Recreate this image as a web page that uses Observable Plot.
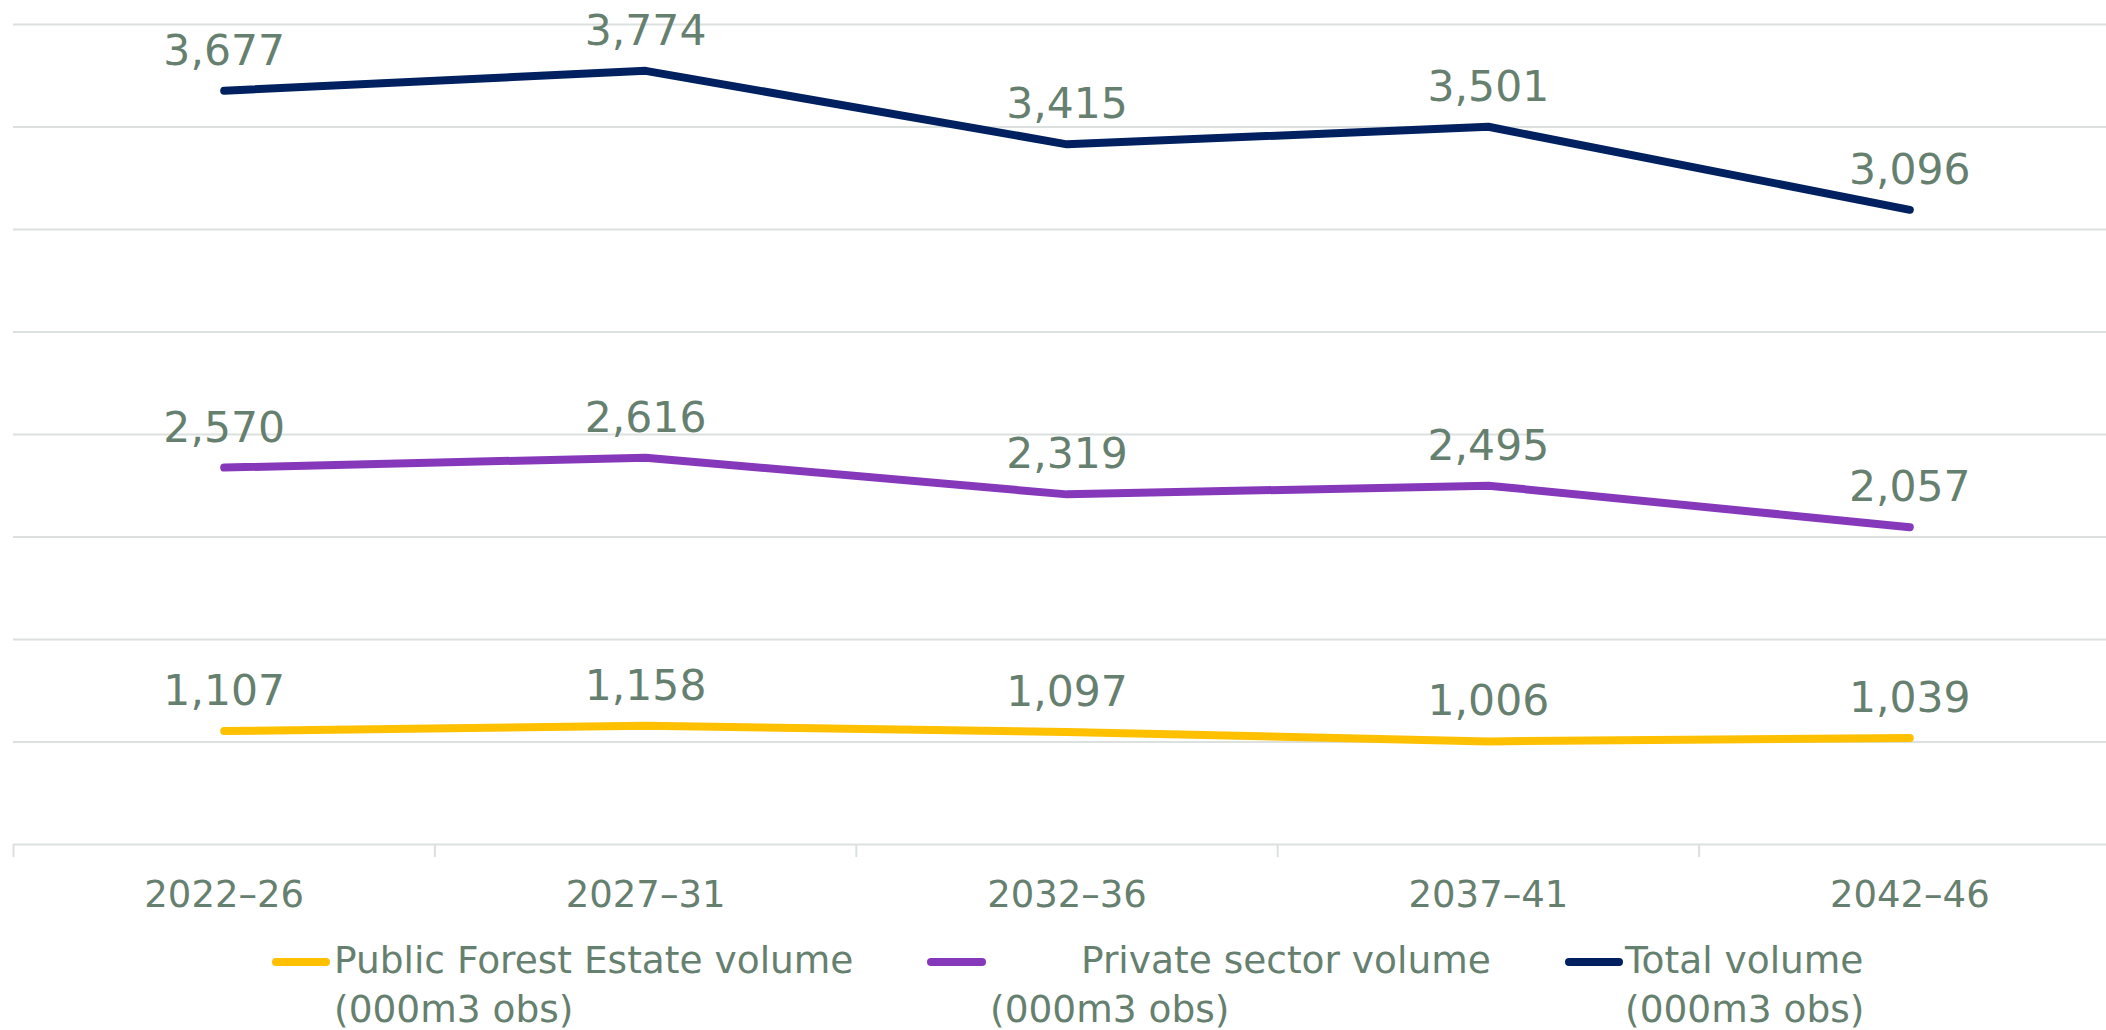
<!DOCTYPE html>
<html>
<head>
<meta charset="utf-8">
<script src="https://cdn.jsdelivr.net/npm/d3@7"></script>
<script src="https://cdn.jsdelivr.net/npm/@observablehq/plot@0.6"></script>
<style>
  html, body { margin: 0; padding: 0; background: #ffffff; }
  #wrap { position: relative; width: 2106px; height: 1030px; overflow: hidden; font-family: "DejaVu Sans", Verdana, sans-serif; }
  #legend { position: absolute; left: 0; top: 930px; width: 2106px; height: 100px; }
  .sw { position: absolute; height: 8px; border-radius: 4px; }
  .lt { position: absolute; font-size: 37.5px; line-height: 49px; white-space: nowrap; }
</style>
</head>
<body>
<div id="wrap"><div id="plot"></div><div id="legend"></div></div>
<script>
// ---- data ----
const periods = ["2022–26", "2027–31", "2032–36", "2037–41", "2042–46"];
const publicVolume = [1107, 1158, 1097, 1006, 1039];
const privateVolume = [2570, 2616, 2319, 2495, 2057];
const totalVolume = [3677, 3774, 3415, 3501, 3096];
const seriesNames = ["Public Forest Estate volume (000m3 obs)", "Private sector volume (000m3 obs)", "Total volume (000m3 obs)"];
const seriesLegendLines = [
  ["Public Forest Estate volume", "(000m3 obs)"],
  ["Private sector volume", "(000m3 obs)"],
  ["Total volume", "(000m3 obs)"]
];
const gridValues = [1000, 2000, 3000, 4000, 5000, 6000, 7000, 8000];

// ---- styles ----
const seriesColors = ["#FFC000", "#8638BA", "#002060"];
const textColor = "#66806F";
const gridColor = "#DCE1E0";

// table for Plot (excel-style stacked lines)
const seriesValues = [publicVolume, privateVolume, totalVolume];
const data = [];
periods.forEach((p, i) => {
  seriesValues.forEach((arr, k) => data.push({i, period: p, series: seriesNames[k], value: arr[i]}));
});
const bandEdges = periods.map((_, i) => i - 0.5).concat([periods.length - 0.5]);
const fmt = d3.format(",");

const chart = Plot.plot({
  width: 2106,
  height: 930,
  marginLeft: 13,
  marginRight: 0,
  marginTop: 24,
  marginBottom: 86,
  style: {fontFamily: '"DejaVu Sans", Verdana, sans-serif', background: "white", overflow: "visible"},
  x: {type: "linear", domain: [-0.5, periods.length - 0.5], range: [13, 2120], label: null},
  y: {domain: [0, 8000], axis: null},
  color: {domain: seriesNames, range: seriesColors},
  marks: [
    Plot.gridY(gridValues, {stroke: gridColor, strokeOpacity: 1, strokeWidth: 2}),
    Plot.ruleY([0], {stroke: gridColor, strokeWidth: 2}),
    Plot.axisX(bandEdges, {tickSize: 13, stroke: gridColor, strokeWidth: 2, strokeOpacity: 1, text: null, label: null}),
    Plot.axisX(periods.map((_, i) => i), {tickSize: 0, tickPadding: 36, tickFormat: i => periods[i], fontSize: 37, fill: textColor, label: null}),
    Plot.lineY(data, Plot.stackY2({x: "i", y: "value", z: "series", stroke: "series", strokeWidth: 8, strokeLinecap: "round", strokeLinejoin: "round"})),
    Plot.text(data, Plot.stackY2({x: "i", y: "value", z: "series", text: d => fmt(d.value), lineAnchor: "bottom", dy: -26, fontSize: 42.5, fill: textColor}))
  ]
});
document.getElementById("plot").appendChild(chart);

// ---- legend (HTML, below the SVG) ----
const legendLayout = [
  {swLeft: 272, swWidth: 58, textLeft: [334, 334]},
  {swLeft: 927, swWidth: 59, textLeft: [1081, 990]},
  {swLeft: 1565, swWidth: 58, textLeft: [1625, 1625]}
];
const legend = document.getElementById("legend");
seriesNames.forEach((name, k) => {
  const L = legendLayout[k];
  const sw = document.createElement("div");
  sw.className = "sw";
  sw.style.left = L.swLeft + "px";
  sw.style.width = L.swWidth + "px";
  sw.style.top = "28px";
  sw.style.background = seriesColors[k];
  legend.appendChild(sw);
  seriesLegendLines[k].forEach((line, j) => {
    const t = document.createElement("div");
    t.className = "lt";
    t.style.left = L.textLeft[j] + "px";
    t.style.top = (6 + j * 49) + "px";
    t.style.color = textColor;
    t.textContent = line;
    legend.appendChild(t);
  });
});
</script>
</body>
</html>
